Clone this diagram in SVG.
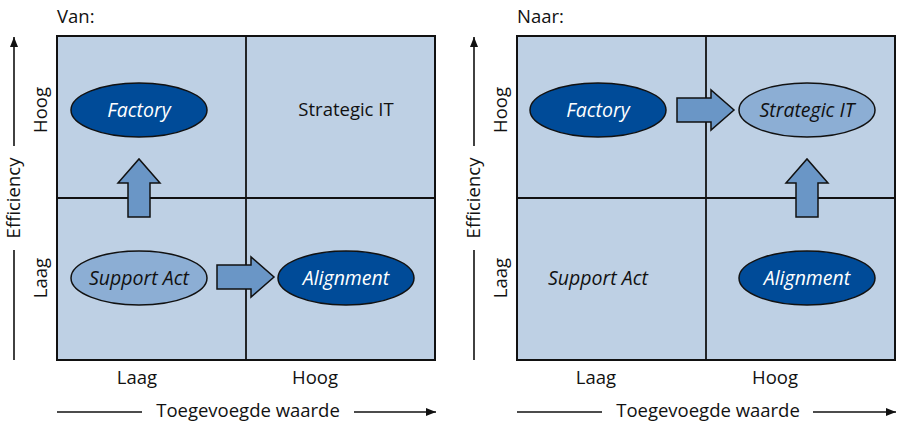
<svg xmlns="http://www.w3.org/2000/svg" width="897" height="422" viewBox="0 0 897 422">
  <style>
    text { font-family: "Open Sans", "Noto Sans", "Liberation Sans", sans-serif; font-size: 18.5px; fill: #111; }
    .mid { text-anchor: middle; }
    .it { font-style: italic; font-size: 19.5px; }
    .white { fill: #fff; }
    .panel { fill: #bed0e4; stroke: #111; stroke-width: 2; }
    .div { stroke: #111; stroke-width: 1.8; fill: none; }
    .axis { stroke: #111; stroke-width: 1.6; fill: none; }
    .dark { fill: #004b98; stroke: #111; stroke-width: 1.5; }
    .light { fill: #8caed4; stroke: #111; stroke-width: 1.5; }
    .move { fill: #6a96c6; stroke: #111; stroke-width: 1.5; stroke-linejoin: miter; }
  </style>
  <defs>
    <marker id="head" viewBox="0 0 10 10" refX="10" refY="5" markerWidth="10" markerHeight="10" markerUnits="userSpaceOnUse" orient="auto">
      <path d="M0,1 L10,5 L0,9 Z" fill="#111"/>
    </marker>
    <path id="upArrow" d="M-11,58 L-11,24 L-21,24 L0,0 L21,24 L11,24 L11,58 Z"/>
    <path id="rightArrow" d="M0,-12 L34,-12 L34,-20 L57,0 L34,20 L34,12 L0,12 Z"/>
  </defs>

  <!-- left matrix: current situation -->
  <g id="panel-van">
    <text x="57" y="23">Van:</text>
    <rect class="panel" x="57" y="36" width="378" height="324"/>
    <line class="div" x1="246" y1="36" x2="246" y2="360"/>
    <line class="div" x1="57" y1="198" x2="435" y2="198"/>
  </g>
  <g id="axes-van">
    <line class="axis" x1="14" y1="146" x2="14" y2="37" marker-end="url(#head)"/>
    <line class="axis" x1="14" y1="250" x2="14" y2="360"/>
    <text class="mid" transform="translate(20,198) rotate(-90)">Efficiency</text>
    <text class="mid" transform="translate(47,110) rotate(-90)">Hoog</text>
    <text class="mid" transform="translate(47,278) rotate(-90)">Laag</text>
    <text class="mid" x="137" y="384">Laag</text>
    <text class="mid" x="315" y="384">Hoog</text>
    <line class="axis" x1="57" y1="412" x2="142" y2="412"/>
    <text class="mid" x="248" y="417">Toegevoegde waarde</text>
    <line class="axis" x1="354" y1="412" x2="436" y2="412" marker-end="url(#head)"/>
  </g>
  <g id="van-factory">
    <ellipse class="dark" cx="139" cy="110" rx="68" ry="27"/>
    <text class="mid it white" x="139" y="117">Factory</text>
  </g>
  <g id="van-strategic">
    <text class="mid" x="346" y="116">Strategic IT</text>
  </g>
  <g id="van-support">
    <ellipse class="light" cx="139" cy="278" rx="68" ry="27"/>
    <text class="mid it" x="139" y="285">Support Act</text>
  </g>
  <g id="van-alignment">
    <ellipse class="dark" cx="346" cy="278" rx="68" ry="27"/>
    <text class="mid it white" x="346" y="285">Alignment</text>
  </g>

  <!-- right matrix: target situation -->
  <g id="panel-naar">
    <text x="517" y="23">Naar:</text>
    <rect class="panel" x="517" y="36" width="378" height="324"/>
    <line class="div" x1="706" y1="36" x2="706" y2="360"/>
    <line class="div" x1="517" y1="198" x2="895" y2="198"/>
  </g>
  <g id="axes-naar">
    <line class="axis" x1="474" y1="146" x2="474" y2="37" marker-end="url(#head)"/>
    <line class="axis" x1="474" y1="250" x2="474" y2="360"/>
    <text class="mid" transform="translate(480,198) rotate(-90)">Efficiency</text>
    <text class="mid" transform="translate(507,110) rotate(-90)">Hoog</text>
    <text class="mid" transform="translate(507,278) rotate(-90)">Laag</text>
    <text class="mid" x="596" y="384">Laag</text>
    <text class="mid" x="775" y="384">Hoog</text>
    <line class="axis" x1="517" y1="412" x2="602" y2="412"/>
    <text class="mid" x="708" y="417">Toegevoegde waarde</text>
    <line class="axis" x1="813" y1="412" x2="896" y2="412" marker-end="url(#head)"/>
  </g>
  <g id="naar-factory">
    <ellipse class="dark" cx="598" cy="110" rx="68" ry="27"/>
    <text class="mid it white" x="598" y="117">Factory</text>
  </g>
  <g id="naar-strategic">
    <ellipse class="light" cx="807" cy="110" rx="68" ry="27"/>
    <text class="mid it" x="807" y="117">Strategic IT</text>
  </g>
  <g id="naar-support">
    <text class="mid it" x="598" y="285">Support Act</text>
  </g>
  <g id="naar-alignment">
    <ellipse class="dark" cx="807" cy="278" rx="68" ry="27"/>
    <text class="mid it white" x="807" y="285">Alignment</text>
  </g>

  <!-- transition arrows -->
  <g id="connectors">
    <use href="#upArrow" class="move" transform="translate(139,159)"/>
    <use href="#rightArrow" class="move" transform="translate(217,277)"/>
    <use href="#rightArrow" class="move" transform="translate(677,110)"/>
    <use href="#upArrow" class="move" transform="translate(807,159)"/>
  </g>
</svg>
